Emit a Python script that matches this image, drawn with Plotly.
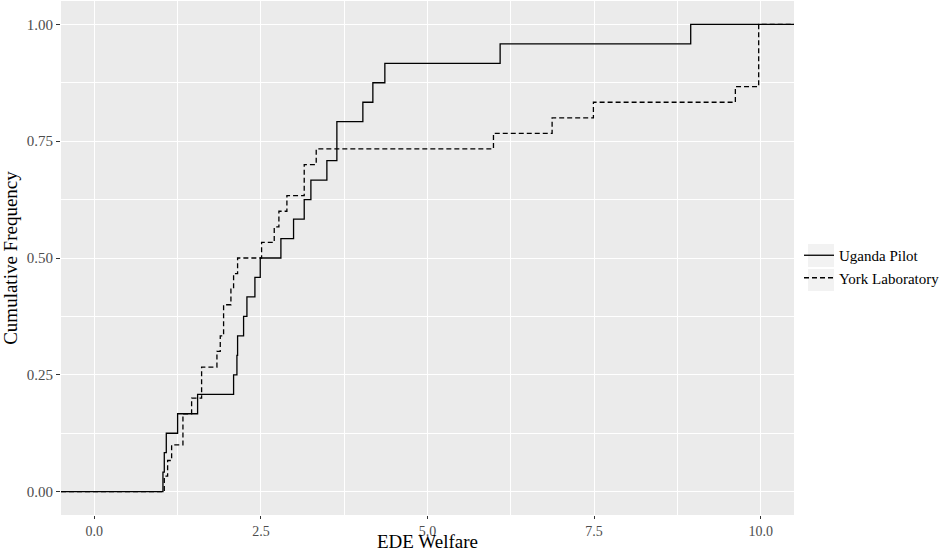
import plotly.graph_objects as go

# EDE welfare observations per sample
uganda_pilot = [1.03, 1.05, 1.08, 1.25, 1.55, 2.09, 2.14, 2.15, 2.24, 2.29, 2.41, 2.49,
                2.80, 2.99, 3.15, 3.25, 3.49, 3.64, 3.64, 4.03, 4.18, 4.36, 6.09, 8.95]
york_laboratory = [1.05, 1.10, 1.16, 1.33, 1.33, 1.46, 1.61, 1.61, 1.84, 1.89, 1.94, 1.94,
                   2.05, 2.09, 2.15, 2.51, 2.70, 2.77, 2.89, 3.15, 3.15, 3.33, 5.99, 6.87,
                   7.49, 9.62, 9.97, 9.97, 9.97, 9.97]

series_names = ["Uganda Pilot", "York Laboratory"]
x_ticks = [0.0, 2.5, 5.0, 7.5, 10.0]
y_ticks = [0.0, 0.25, 0.50, 0.75, 1.00]

X_RANGE = [-0.5, 10.5]
Y_RANGE = [-0.05, 1.05]

FONT = "Liberation Serif"
PANEL = "#EBEBEB"

W, H = 940, 549
ML, MR, MT, MB = 61, 146, 1, 34
PW, PH = W - ML - MR, H - MT - MB


def ecdf(values):
    """Empirical CDF as step vertices, padded out to the panel edges."""
    xs = sorted(values)
    n = len(xs)
    x = [X_RANGE[0]] + xs + [X_RANGE[1]]
    y = [0.0] + [(i + 1) / n for i in range(n)] + [1.0]
    return x, y


def px_to_paper(px, py):
    return (px - ML) / PW, (H - MB - py) / PH


fig = go.Figure()
for name, vals, dash in [(series_names[0], uganda_pilot, "solid"),
                         (series_names[1], york_laboratory, "5px,3px")]:
    x, y = ecdf(vals)
    fig.add_trace(go.Scatter(
        x=x, y=y, mode="lines", name=name,
        line=dict(color="black", width=1.3, shape="hv", dash=dash),
    ))

axis_common = dict(
    showline=False, zeroline=False,
    showgrid=True, gridcolor="white", gridwidth=1.1,
    ticks="outside", tickwidth=1, tickcolor="#333333",
    title_font=dict(family=FONT, size=19, color="black"),
)

fig.update_xaxes(
    range=X_RANGE, tickvals=x_ticks,
    ticktext=[f"{v:.1f}" for v in x_ticks],
    minor=dict(tickvals=[1.25, 3.75, 6.25, 8.75], showgrid=True,
               gridcolor="white", gridwidth=0.55, ticks=""),
    ticklen=3,
    tickfont=dict(family=FONT, size=14, color="#4D4D4D"),
    **axis_common,
)
fig.update_yaxes(
    range=Y_RANGE, tickvals=y_ticks,
    ticktext=[f"{v:.2f}" for v in y_ticks],
    minor=dict(tickvals=[0.125, 0.375, 0.625, 0.875], showgrid=True,
               gridcolor="white", gridwidth=0.55, ticks=""),
    title=dict(text="Cumulative Frequency", standoff=5),
    ticklen=4,
    tickfont=dict(family=FONT, size=15, color="#4D4D4D"),
    **axis_common,
)

# x-axis title, centred under the panel near the bottom edge
_, title_y = px_to_paper(0, 541)
annotations = [dict(
    text="EDE Welfare", xref="paper", yref="paper", x=0.5, y=title_y,
    xanchor="center", yanchor="middle", showarrow=False,
    font=dict(family=FONT, size=19, color="black"),
)]

# grey key backgrounds behind the legend glyphs
shapes = []
for top, bottom in [(244, 267), (269, 291)]:
    x0, y0 = px_to_paper(808, bottom)
    x1, y1 = px_to_paper(834, top)
    shapes.append(dict(type="rect", xref="paper", yref="paper",
                       x0=x0, x1=x1, y0=y0, y1=y1,
                       fillcolor="#F2F2F2", line=dict(width=0), layer="above"))

lx, ly = px_to_paper(799, 266.5)
fig.update_layout(
    width=W, height=H,
    margin=dict(l=ML, r=MR, t=MT, b=MB, autoexpand=False),
    paper_bgcolor="white", plot_bgcolor=PANEL,
    font=dict(family=FONT, color="black"),
    showlegend=True,
    shapes=shapes,
    annotations=annotations,
    legend=dict(
        x=lx, xanchor="left", y=ly, yanchor="middle",
        font=dict(family=FONT, size=15, color="black"),
        itemwidth=30, tracegroupgap=0,
        bgcolor="rgba(0,0,0,0)",
    ),
)

fig.write_html("out.html")
